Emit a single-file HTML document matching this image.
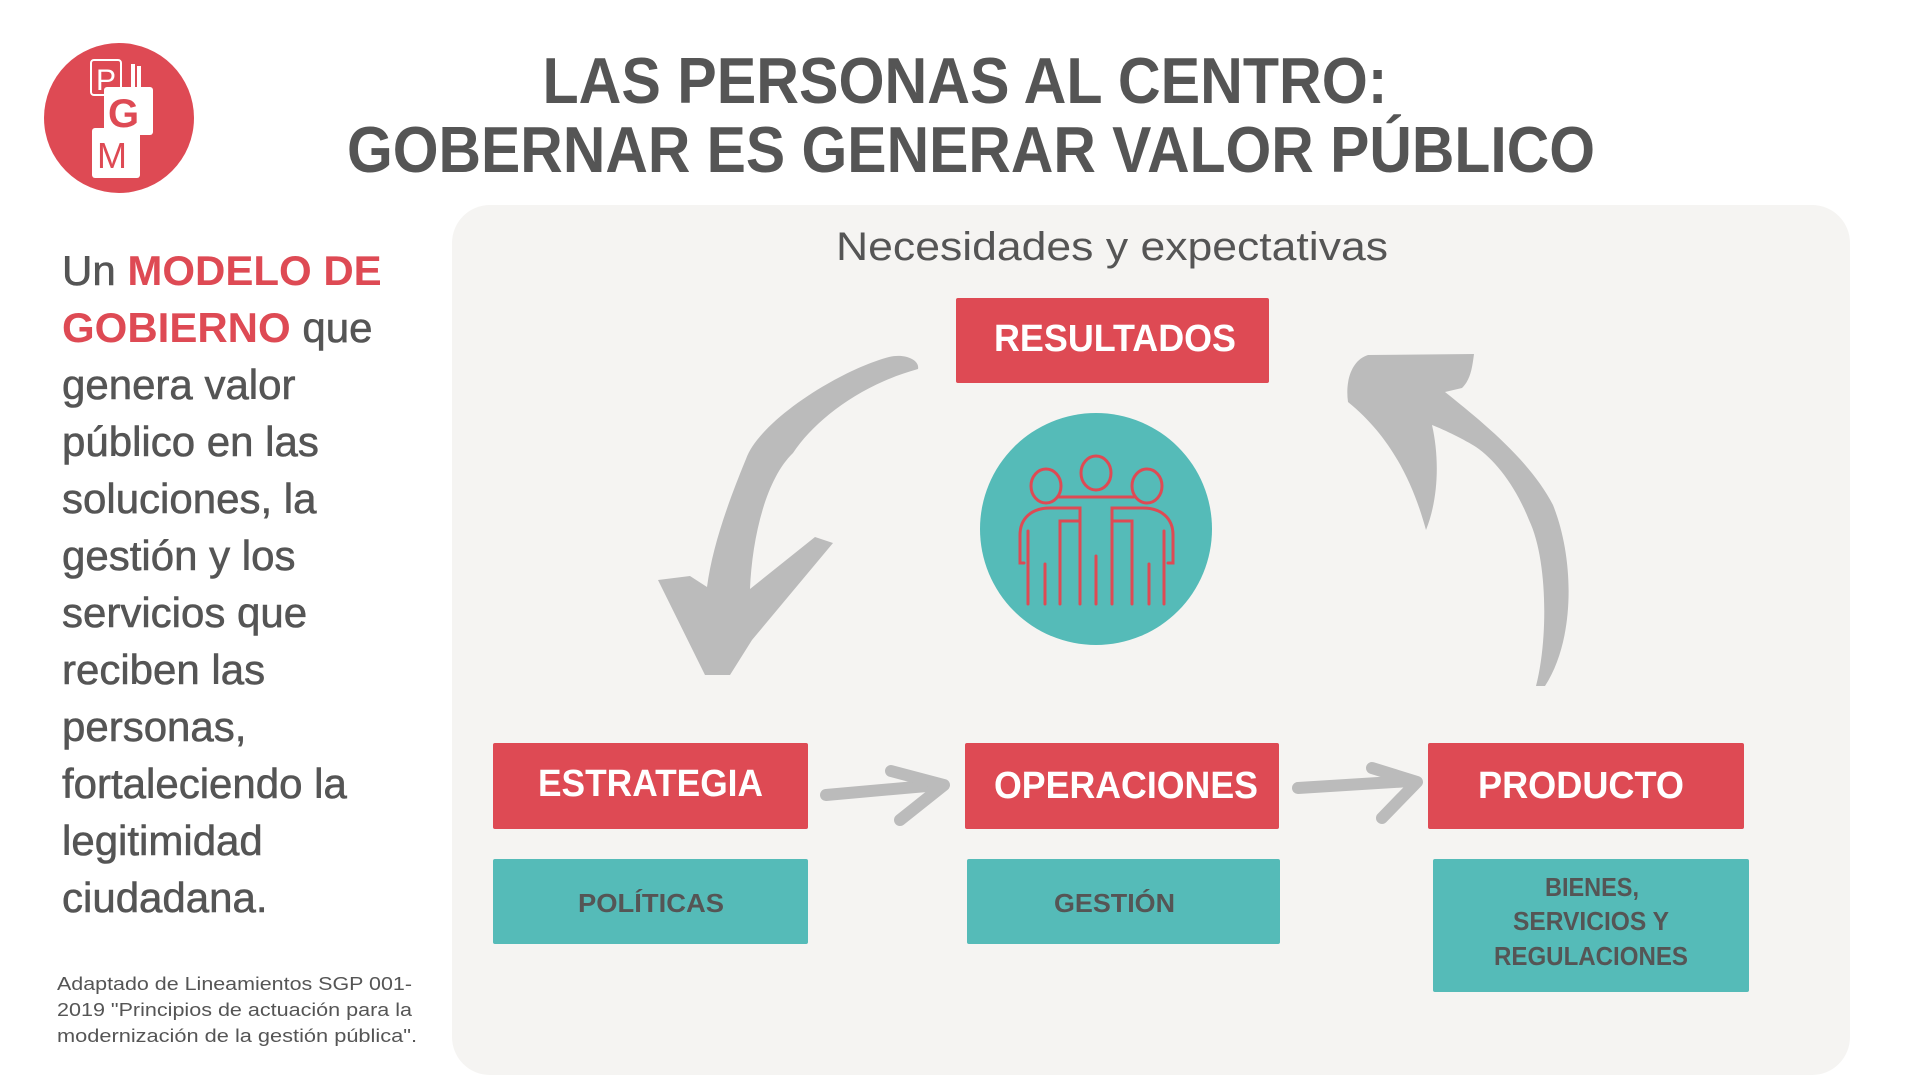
<!DOCTYPE html>
<html><head><meta charset="utf-8"><style>
html,body{margin:0;padding:0;background:#fff;}
svg{display:block;}
</style></head><body>
<svg width="1920" height="1080" viewBox="0 0 1920 1080" xmlns="http://www.w3.org/2000/svg" font-family="Liberation Sans, sans-serif">
<rect width="1920" height="1080" fill="#fff"/>
<!-- logo -->
<circle cx="119" cy="118" r="75" fill="#DE4A54"/>
<rect x="91" y="60" width="30" height="35" rx="3" fill="none" stroke="#fff" stroke-width="2"/>
<text x="96" y="90" font-size="30" fill="#fff">P</text>
<rect x="92" y="128" width="48" height="50" rx="3" fill="#fff"/>
<rect x="104" y="87" width="49" height="48" rx="3" fill="#fff"/>
<text x="108" y="127" font-size="40" font-weight="bold" fill="#DE4A54">G</text>
<text x="97" y="168" font-size="36" fill="#DE4A54">M</text>
<rect x="131" y="64" width="4" height="24" fill="#fff"/><rect x="137" y="66" width="4" height="22" fill="#fff"/>
<!-- title -->
<text x="965" y="103" font-size="65" font-weight="bold" fill="#555" text-anchor="middle" textLength="845" lengthAdjust="spacingAndGlyphs">LAS PERSONAS AL CENTRO:</text>
<text x="971" y="172" font-size="65" font-weight="bold" fill="#555" text-anchor="middle" textLength="1248" lengthAdjust="spacingAndGlyphs">GOBERNAR ES GENERAR VALOR PÚBLICO</text>
<!-- left text -->
<g font-size="42" fill="#555" stroke="#555" stroke-width="0.6">
<text x="62" y="285">Un <tspan fill="#DE4A54" stroke="none" font-weight="bold">MODELO DE</tspan></text>
<text x="62" y="342"><tspan fill="#DE4A54" stroke="none" font-weight="bold">GOBIERNO</tspan> que</text>
<text x="62" y="399">genera valor</text>
<text x="62" y="456">público en las</text>
<text x="62" y="513">soluciones, la</text>
<text x="62" y="570">gestión y los</text>
<text x="62" y="627">servicios que</text>
<text x="62" y="684">reciben las</text>
<text x="62" y="741">personas,</text>
<text x="62" y="798">fortaleciendo la</text>
<text x="62" y="855">legitimidad</text>
<text x="62" y="912">ciudadana.</text>
</g>
<g font-size="18" fill="#555">
<text x="57" y="990" textLength="355" lengthAdjust="spacingAndGlyphs">Adaptado de Lineamientos SGP 001-</text>
<text x="57" y="1016" textLength="355" lengthAdjust="spacingAndGlyphs">2019 "Principios de actuación para la</text>
<text x="57" y="1042" textLength="360" lengthAdjust="spacingAndGlyphs">modernización de la gestión pública".</text>
</g>
<!-- panel -->
<rect x="452" y="205" width="1398" height="870" rx="38" fill="#F5F4F2"/>
<text x="1112" y="260" font-size="40" fill="#555" text-anchor="middle" textLength="552" lengthAdjust="spacingAndGlyphs">Necesidades y expectativas</text>
<!-- arrows -->
<g fill="#BBBBBB">
<path d="M889,357 C840,370 760,420 746,459 C725,510 712,550 707,587 L690,576 L658,580 L705,675 L730,675 L752,640 L833,543 L815,537 L750,589 C752,540 765,480 793,453 C815,420 860,385 918,369 C920,360 905,353 889,357 Z"/>
<path d="M1536,686 C1548,640 1548,560 1529,520 C1515,485 1495,460 1476,447 C1465,440 1445,430 1432,425 C1440,460 1438,500 1426,530 C1415,490 1395,440 1348,402 C1345,380 1352,360 1368,355 L1474,354 C1472,370 1470,380 1462,388 L1445,392 C1480,420 1530,460 1553,505 C1575,560 1575,640 1545,686 Z"/>
</g>
<g stroke="#BBBBBB" stroke-width="12" stroke-linecap="round" stroke-linejoin="round" fill="none">
<path d="M826,795 L938,785"/><path d="M891,771 L944,785 L900,820"/>
<path d="M1298,788 L1410,781"/><path d="M1372,768 L1417,782 L1382,818"/>
</g>
<!-- boxes -->
<g fill="#DE4A54">
<rect x="956" y="298" width="313" height="85" rx="2"/>
<rect x="493" y="743" width="315" height="86" rx="2"/>
<rect x="965" y="743" width="314" height="86" rx="2"/>
<rect x="1428" y="743" width="316" height="86" rx="2"/>
</g>
<g fill="#55BBB8">
<rect x="493" y="859" width="315" height="85" rx="2"/>
<rect x="967" y="859" width="313" height="85" rx="2"/>
<rect x="1433" y="859" width="316" height="133" rx="2"/>
</g>
<g font-size="38" font-weight="bold" fill="#fff">
<text x="994" y="351" textLength="242" lengthAdjust="spacingAndGlyphs">RESULTADOS</text>
<text x="538" y="796" textLength="225" lengthAdjust="spacingAndGlyphs">ESTRATEGIA</text>
<text x="994" y="798" textLength="264" lengthAdjust="spacingAndGlyphs">OPERACIONES</text>
<text x="1478" y="798" textLength="206" lengthAdjust="spacingAndGlyphs">PRODUCTO</text>
</g>
<g font-size="26" font-weight="bold" fill="#555">
<text x="578" y="912" textLength="146" lengthAdjust="spacingAndGlyphs">POLÍTICAS</text>
<text x="1054" y="912" textLength="121" lengthAdjust="spacingAndGlyphs">GESTIÓN</text>
<text x="1545" y="896" textLength="94" lengthAdjust="spacingAndGlyphs">BIENES,</text>
<text x="1513" y="930" textLength="156" lengthAdjust="spacingAndGlyphs">SERVICIOS Y</text>
<text x="1494" y="965" textLength="194" lengthAdjust="spacingAndGlyphs">REGULACIONES</text>
</g>
<!-- people circle -->
<circle cx="1096" cy="529" r="116" fill="#55BBB8"/>
<g stroke="#DE4A54" stroke-width="3" fill="none" stroke-linecap="round">
<ellipse cx="1046" cy="486" rx="15" ry="17"/>
<ellipse cx="1096" cy="473" rx="15" ry="17"/>
<ellipse cx="1147" cy="486" rx="15" ry="17"/>
<path d="M1059,497 L1134,497"/>
<path d="M1024,563 L1020,563 L1020,535 C1020,518 1032,508 1050,508 L1080,508 L1080,604"/>
<path d="M1060,604 L1060,521 L1079,521"/>
<path d="M1028,531 L1028,604"/><path d="M1045,564 L1045,604"/>
<path d="M1096,556 L1096,604"/>
<path d="M1168,563 L1173,563 L1173,535 C1173,518 1161,508 1143,508 L1112,508 L1112,604"/>
<path d="M1132,604 L1132,521 L1113,521"/>
<path d="M1164,531 L1164,604"/><path d="M1149,564 L1149,604"/>
</g>
</svg>
</body></html>
